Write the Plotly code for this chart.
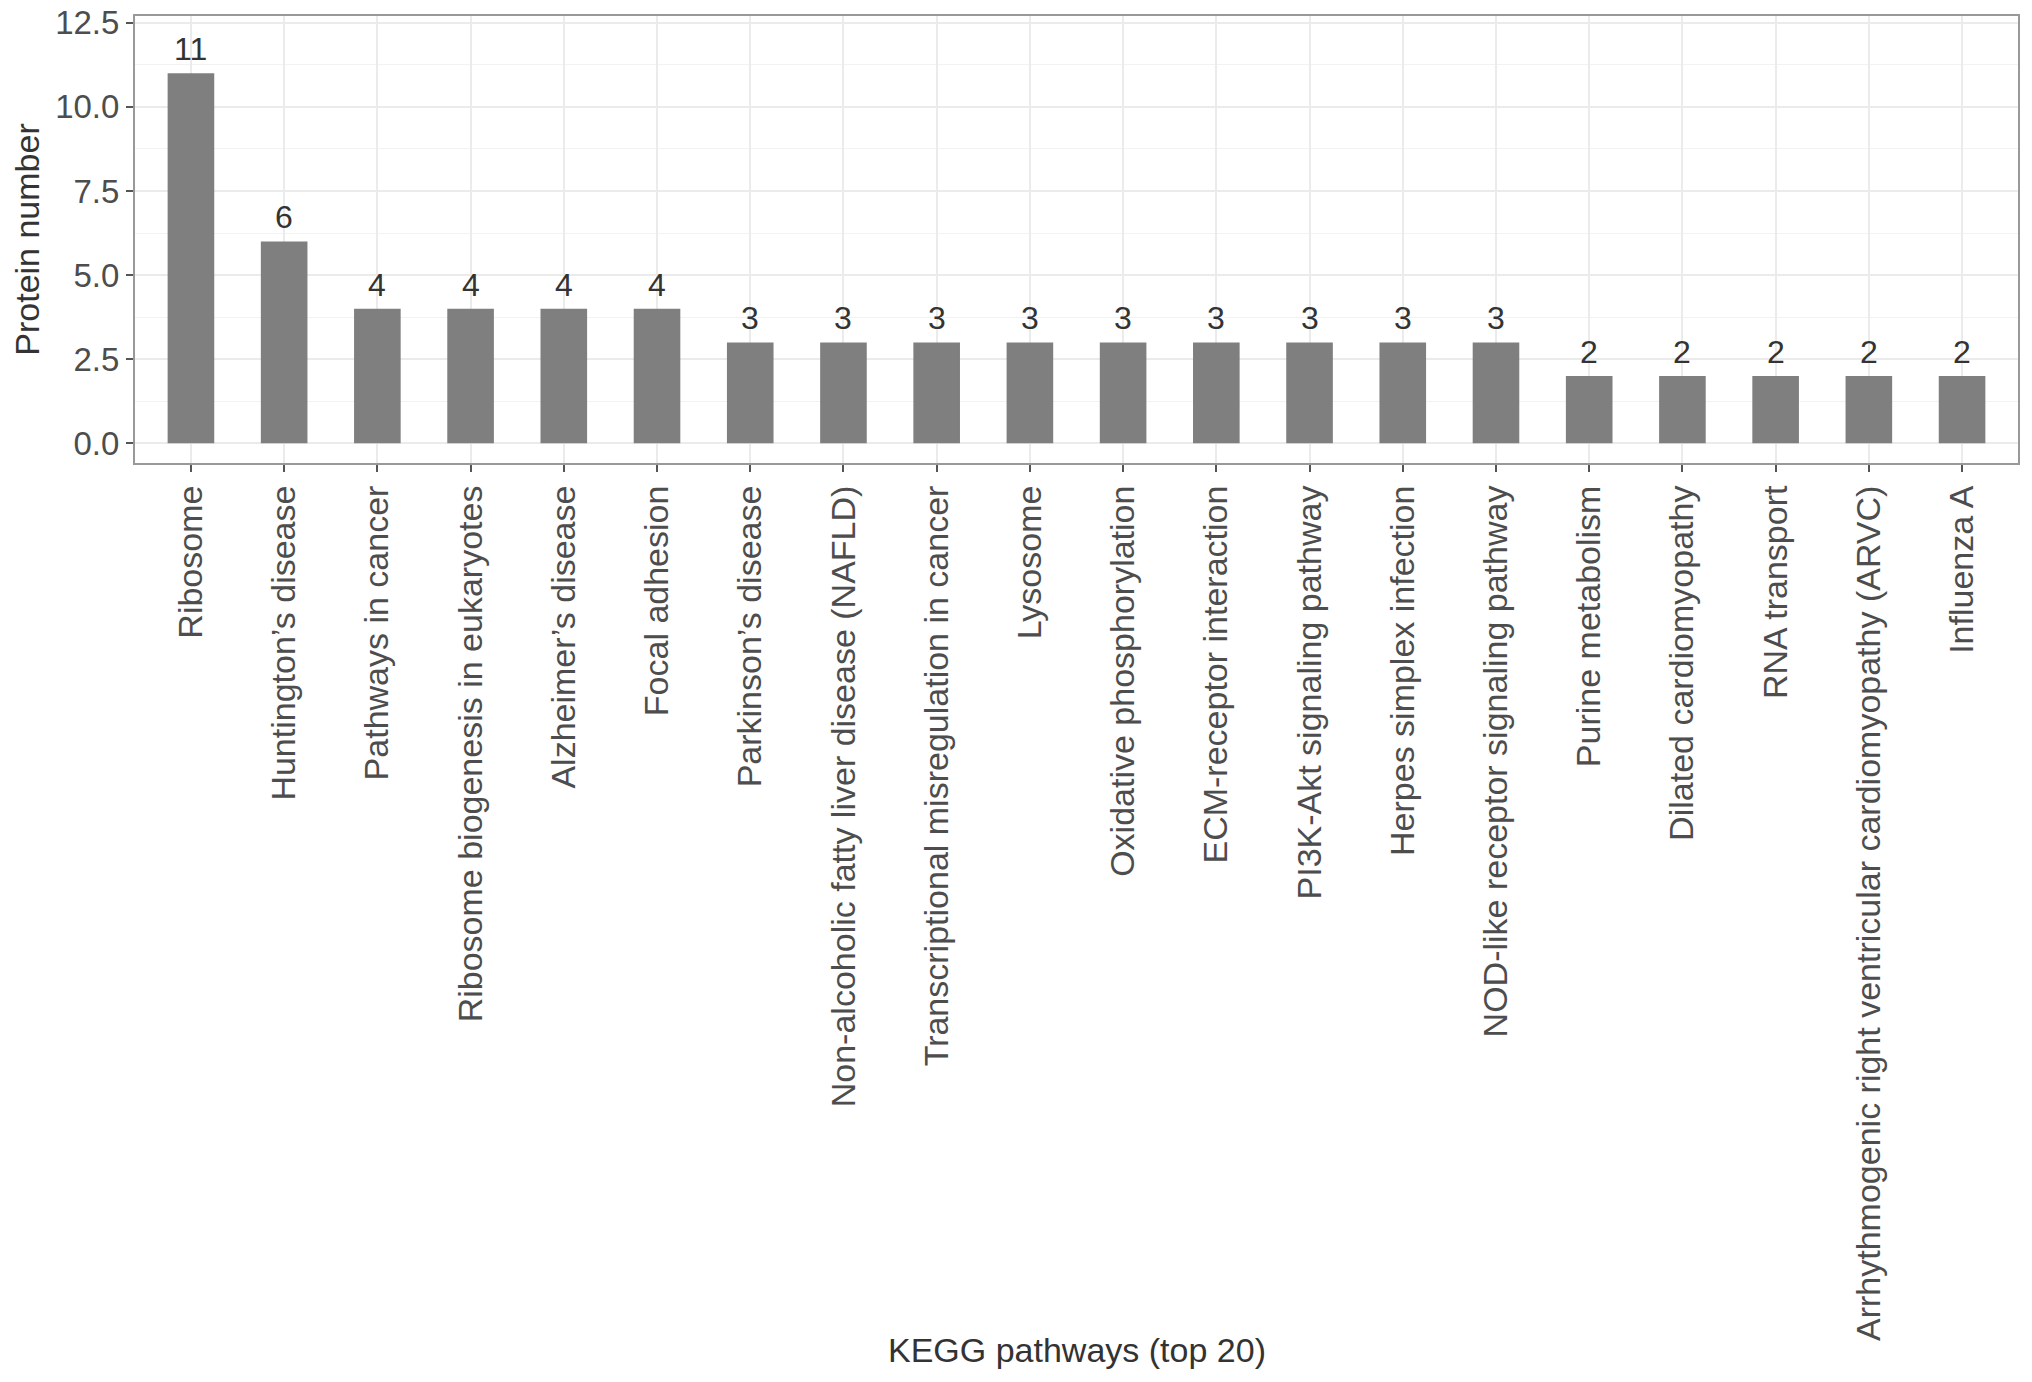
import plotly.graph_objects as go

pathways = [
    "Ribosome",
    "Huntington\u2019s disease",
    "Pathways in cancer",
    "Ribosome biogenesis in eukaryotes",
    "Alzheimer\u2019s disease",
    "Focal adhesion",
    "Parkinson\u2019s disease",
    "Non-alcoholic fatty liver disease (NAFLD)",
    "Transcriptional misregulation in cancer",
    "Lysosome",
    "Oxidative phosphorylation",
    "ECM-receptor interaction",
    "PI3K-Akt signaling pathway",
    "Herpes simplex infection",
    "NOD-like receptor signaling pathway",
    "Purine metabolism",
    "Dilated cardiomyopathy",
    "RNA transport",
    "Arrhythmogenic right ventricular cardiomyopathy (ARVC)",
    "Influenza A",
]
protein_counts = [11, 6, 4, 4, 4, 4, 3, 3, 3, 3, 3, 3, 3, 3, 3, 2, 2, 2, 2, 2]
y_tick_vals = [0, 2.5, 5, 7.5, 10, 12.5]
y_tick_text = ["0.0", "2.5", "5.0", "7.5", "10.0", "12.5"]
y_minor_vals = [1.25, 3.75, 6.25, 8.75, 11.25]

FONT = "Liberation Sans, Arial, Helvetica, sans-serif"

M_L, M_R, M_T, M_B = 135, 14, 16, 919

fig = go.Figure()
fig.add_trace(go.Bar(
    x=pathways,
    y=protein_counts,
    marker=dict(color="#7f7f7f", line=dict(width=0)),
    hoverinfo="x+y",
))

for p, c in zip(pathways, protein_counts):
    fig.add_annotation(
        x=p, y=c, text=str(c), showarrow=False,
        yanchor="bottom", yshift=4,
        font=dict(family=FONT, size=32, color="#333333"),
    )

fig.update_layout(
    width=2032, height=1382,
    margin=dict(l=M_L, r=M_R, t=M_T, b=M_B),
    paper_bgcolor="white",
    plot_bgcolor="white",
    bargap=0.5,
    showlegend=False,
    font=dict(family=FONT, color="#4d4d4d"),
)

fig.update_xaxes(
    type="category",
    range=[-0.6, 19.6],
    tickangle=-90,
    tickfont=dict(family=FONT, size=34, color="#4d4d4d"),
    ticks="outside", ticklen=7, tickwidth=1.5, tickcolor="#555555",
    showgrid=True, gridcolor="#ebebeb", gridwidth=2,
    showline=True, linecolor="#999999", linewidth=2, mirror=True,
    automargin=False,
)

fig.update_yaxes(
    range=[-0.585, 12.70],
    tickvals=y_tick_vals, ticktext=y_tick_text,
    tickfont=dict(family=FONT, size=33, color="#4d4d4d"),
    ticklabeloverflow="allow",
    ticks="outside", ticklen=7, tickwidth=1.5, tickcolor="#555555",
    showgrid=True, gridcolor="#ebebeb", gridwidth=2,
    minor=dict(tickvals=y_minor_vals, showgrid=True,
               gridcolor="#f2f2f2", gridwidth=1, ticks=""),
    zeroline=False,
    showline=True, linecolor="#999999", linewidth=2, mirror=True,
    title=dict(text="Protein number", standoff=5,
               font=dict(family=FONT, size=34, color="#333333")),
    automargin=False,
)

panel_h = 1382 - M_T - M_B
fig.add_annotation(
    text="KEGG pathways (top 20)", xref="paper", yref="paper",
    x=0.5, y=-(1350 - 463) / panel_h, yanchor="middle", showarrow=False,
    font=dict(family=FONT, size=34, color="#333333"),
)

fig.write_html(
    "out.html",
    config={"displayModeBar": False},
    post_script="document.body.style.margin='0';",
)
